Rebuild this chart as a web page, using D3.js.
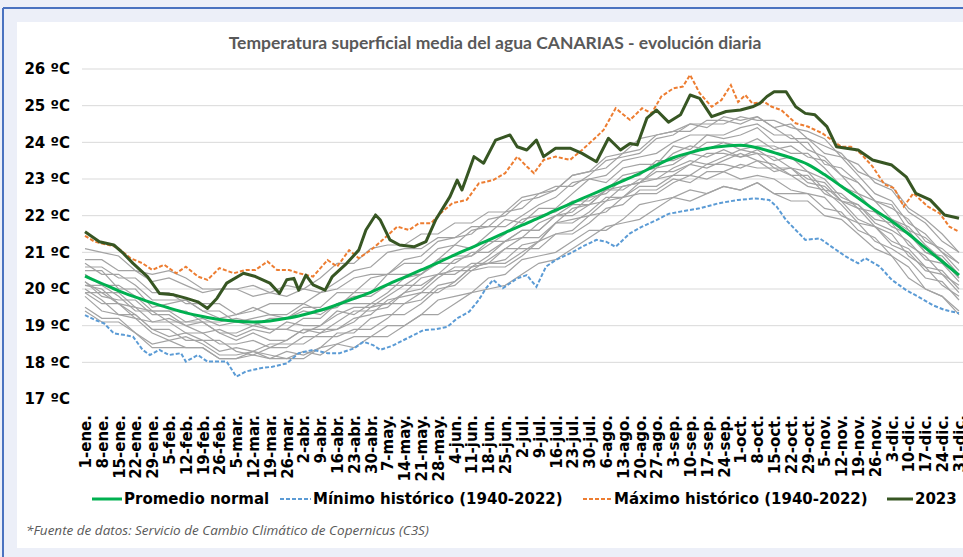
<!DOCTYPE html>
<html lang="es">
<head>
<meta charset="utf-8">
<script src="https://d3js.org/d3.v7.min.js"></script>
<title>Temperatura superficial media del agua CANARIAS</title>
<style>
  body { margin: 0; background: #eceff8; }
  svg { display: block; }
</style>
</head>
<body>
<div id="chart"></div>
<script>
// --- data ---
var title = "Temperatura superficial media del agua CANARIAS - evolución diaria";
var source = "*Fuente de datos: Servicio de Cambio Climático de Copernicus (C3S)";

var tickDays = [0,7,14,21,28,35,42,49,56,63,70,77,84,91,98,105,112,119,126,133,140,147,154,161,168,175,182,189,196,203,210,217,224,231,238,245,252,259,266,273,280,287,294,301,308,315,322,329,336,343,350,357,364];
var tickLabels = ["1-ene.","8-ene.","15-ene.","22-ene.","29-ene.","5-feb.","12-feb.","19-feb.","26-feb.","5-mar.","12-mar.","19-mar.","26-mar.","2-abr.","9-abr.","16-abr.","23-abr.","30-abr.","7-may.","14-may.","21-may.","28-may.","4-jun.","11-jun.","18-jun.","25-jun.","2-jul.","9-jul.","16-jul.","23-jul.","30-jul.","6-ago.","13-ago.","20-ago.","27-ago.","3-sep.","10-sep.","17-sep.","24-sep.","1-oct.","8-oct.","15-oct.","22-oct.","29-oct.","5-nov.","12-nov.","19-nov.","26-nov.","3-dic.","10-dic.","17-dic.","24-dic.","31-dic."];
var yTicks = [17,18,19,20,21,22,23,24,25,26];

// promedio normal (weekly, on tickDays)
var normal = [20.35,20.15,19.95,19.78,19.62,19.48,19.35,19.25,19.17,19.12,19.10,19.13,19.20,19.30,19.42,19.57,19.74,19.91,20.12,20.32,20.52,20.72,20.93,21.13,21.33,21.54,21.74,21.94,22.15,22.35,22.55,22.75,22.95,23.15,23.38,23.58,23.72,23.83,23.89,23.92,23.85,23.72,23.58,23.40,23.12,22.80,22.48,22.15,21.85,21.50,21.12,20.75,20.38];

// 2023
var days2023 = [0,6,12,16,20,26,31,37,42,47,51,55,59,66,71,77,81,84,87,89,92,95,100,103,109,114,117,121,123,127,131,137,142,146,152,155,157,162,166,171,177,180,184,188,191,196,202,207,213,218,223,227,230,234,238,243,248,252,256,261,267,273,278,281,284,287,292,296,300,304,309,313,317,322,328,336,342,346,352,358,364];
var t2023 = [21.56,21.29,21.20,20.97,20.70,20.34,19.88,19.84,19.75,19.65,19.47,19.75,20.16,20.43,20.34,20.16,19.88,20.25,20.29,19.97,20.38,20.11,19.97,20.34,20.70,21.06,21.61,22.02,21.88,21.34,21.20,21.15,21.29,21.88,22.52,22.97,22.70,23.61,23.43,24.06,24.20,23.88,23.79,24.06,23.61,23.84,23.84,23.70,23.47,24.11,23.79,23.97,23.93,24.66,24.88,24.55,24.75,25.29,25.20,24.70,24.84,24.88,24.97,25.06,25.25,25.38,25.38,24.97,24.79,24.75,24.43,23.88,23.84,23.79,23.52,23.38,23.06,22.61,22.43,22.02,21.93];

// máximo histórico (1940-2022)
var daysMax = [0,4,13,19,24,28,33,38,42,47,51,56,62,67,71,76,80,85,89,95,101,105,110,114,119,124,130,135,139,144,148,153,159,164,170,175,180,184,187,191,196,202,207,213,216,221,227,232,236,240,245,249,252,256,261,265,269,272,275,278,283,286,290,296,301,307,311,315,319,323,328,333,337,341,345,351,356,360,364];
var tMax = [21.45,21.29,21.15,20.84,20.70,20.52,20.66,20.43,20.61,20.34,20.25,20.57,20.43,20.52,20.52,20.75,20.52,20.52,20.43,20.34,20.79,20.61,21.06,20.84,21.06,21.34,21.70,21.61,21.79,21.79,22.06,22.34,22.43,22.88,22.97,23.16,23.61,23.34,23.16,23.52,23.61,23.52,23.79,24.15,24.34,24.93,24.61,24.93,24.79,25.25,25.47,25.52,25.84,25.34,24.97,25.15,25.56,25.10,25.29,25.06,25.10,24.97,24.88,24.52,24.43,24.25,24.06,23.88,23.88,23.70,23.34,22.85,22.75,22.25,22.61,22.25,22.06,21.70,21.56];

// mínimo histórico (1940-2022)
var daysMin = [0,4,8,12,16,20,24,27,31,35,40,42,47,51,55,59,63,67,73,78,84,89,95,101,106,112,116,120,123,128,134,141,146,151,155,160,164,167,170,174,180,184,188,192,196,202,207,213,217,221,227,232,238,243,248,256,264,272,279,285,288,292,296,300,306,311,317,322,325,331,336,342,347,353,358,364];
var tMin = [19.29,19.16,19.06,18.79,18.75,18.70,18.34,18.20,18.34,18.20,18.25,18.02,18.20,18.02,18.02,18.02,17.61,17.75,17.84,17.88,17.97,18.25,18.34,18.25,18.25,18.38,18.56,18.47,18.34,18.45,18.65,18.88,18.90,18.97,19.20,19.38,19.70,20.02,20.25,20.02,20.29,20.38,20.06,20.61,20.79,20.97,21.15,21.34,21.29,21.15,21.52,21.70,21.88,22.05,22.11,22.20,22.34,22.43,22.47,22.43,22.25,21.88,21.61,21.34,21.38,21.15,20.88,20.70,20.84,20.61,20.25,19.97,19.79,19.56,19.43,19.34];

// años 1940-2022 (muestra, semanal sobre tickDays)
var year01 = [19.9,19.6,19.6,19.3,18.9,18.9,18.6,18.6,18.6,18.3,18.2,18.4,18.4,18.7,18.7,18.7,18.9,18.9,19.2,19.6,19.7,20.1,20.2,20.6,20.7,20.7,21.0,21.3,21.8,21.9,22.0,22.4,22.5,22.9,23.0,23.1,23.1,23.4,23.4,23.3,23.5,23.2,23.3,23.0,22.9,22.4,22.2,21.7,21.5,20.9,20.6,20.1,19.8];
var year02 = [20.8,20.8,20.5,20.5,20.2,20.3,20.1,19.9,20.0,20.0,19.8,19.9,19.8,20.0,19.9,20.2,20.5,20.6,21.0,21.1,21.1,21.4,21.4,21.7,21.7,22.1,22.2,22.6,22.8,22.8,23.1,23.5,23.6,23.7,24.1,24.2,24.5,24.5,24.5,24.7,24.6,24.6,24.4,24.3,24.1,23.6,23.4,22.9,22.7,22.1,21.8,21.3,21.0];
var year03 = [20.4,20.1,20.1,19.8,19.4,19.4,19.4,19.1,19.1,19.2,19.1,18.9,18.9,19.2,19.2,19.6,19.6,19.6,19.9,20.3,20.4,20.8,20.9,20.9,21.2,21.5,21.9,22.0,22.1,22.4,22.4,22.7,23.1,23.2,23.3,23.7,23.9,23.8,24.0,23.8,23.9,23.9,23.7,23.7,23.3,22.8,22.6,22.1,21.9,21.7,21.2,20.8,20.3];
var year04 = [19.5,19.2,19.2,18.8,18.5,18.6,18.4,18.4,18.1,18.1,18.3,18.2,18.1,18.3,18.2,18.5,18.7,18.7,19.0,19.0,19.3,19.7,19.8,19.9,20.3,20.4,20.8,20.9,21.0,21.3,21.6,21.6,21.9,22.3,22.4,22.5,22.7,22.6,22.8,22.7,22.9,22.6,22.6,22.6,22.2,22.1,21.6,21.4,20.9,20.6,20.0,19.8,19.4];
var year05 = [20.2,19.8,19.7,19.7,19.3,19.3,19.0,18.8,18.9,18.7,18.9,18.8,19.1,19.0,19.0,19.4,19.3,19.6,19.6,19.9,20.3,20.4,20.4,20.7,20.7,21.1,21.4,21.4,21.8,22.2,22.3,22.7,22.7,23.0,23.0,23.3,23.5,23.4,23.6,23.8,23.7,23.3,23.3,22.9,22.8,22.4,22.3,21.9,21.8,21.2,20.9,20.4,20.1];
var year06 = [20.7,20.4,20.4,20.1,19.7,19.7,19.7,19.4,19.4,19.1,19.2,19.3,19.2,19.4,19.3,19.6,19.8,19.8,20.1,20.1,20.4,20.7,20.7,21.0,21.0,21.3,21.6,21.6,22.0,22.0,22.3,22.7,22.8,22.9,23.3,23.4,23.7,23.6,23.8,23.6,23.7,23.6,23.3,23.2,22.7,22.6,22.2,22.1,21.7,21.5,21.0,20.9,20.4];
var year07 = [19.8,19.4,19.3,19.3,18.9,18.7,18.8,18.6,18.3,18.4,18.3,18.5,18.5,18.5,18.8,18.9,19.2,19.3,19.7,19.8,19.9,20.3,20.6,20.6,20.9,21.3,21.4,21.8,22.0,22.1,22.5,22.6,23.0,23.1,23.5,23.5,23.7,24.0,24.0,23.9,24.1,23.8,23.9,23.6,23.5,23.1,22.6,22.4,21.9,21.6,21.0,20.8,20.3];
var year08 = [21.1,21.0,20.9,20.5,20.4,20.5,20.3,20.0,20.0,20.0,20.1,19.9,20.1,20.0,20.3,20.7,20.7,21.1,21.2,21.2,21.5,21.5,21.8,21.8,22.1,22.1,22.5,22.6,22.7,23.1,23.2,23.6,23.7,24.1,24.2,24.3,24.5,24.4,24.7,24.6,24.7,24.4,24.5,24.1,23.9,23.7,23.2,23.0,22.8,22.2,21.9,21.5,21.0];
var year09 = [19.9,19.9,19.6,19.2,19.1,19.2,19.0,19.1,18.8,18.6,18.8,18.6,18.6,18.9,18.9,18.9,19.1,19.5,19.6,19.6,19.9,19.9,20.2,20.6,20.7,20.8,21.2,21.3,21.8,21.8,22.1,22.5,22.5,22.8,22.8,23.1,23.4,23.3,23.5,23.7,23.5,23.4,23.1,22.8,22.7,22.3,21.8,21.7,21.3,21.1,20.6,20.5,20.0];
var year10 = [19.4,19.1,19.1,18.8,18.4,18.4,18.4,18.4,18.1,18.1,18.2,18.1,18.1,18.1,18.4,18.5,18.4,18.7,18.7,19.0,19.3,19.3,19.6,19.9,20.0,20.1,20.4,20.7,20.8,21.1,21.4,21.7,21.8,21.9,22.2,22.5,22.4,22.6,22.8,22.7,22.9,22.6,22.4,22.4,22.0,21.9,21.5,21.1,20.9,20.3,20.0,19.8,19.3];
var year11 = [20.6,20.6,20.3,20.3,19.9,19.9,19.6,19.6,19.6,19.3,19.4,19.6,19.6,19.6,19.9,20.0,20.3,20.4,20.4,20.7,20.7,21.1,21.2,21.6,21.7,21.7,22.0,22.3,22.5,22.9,23.0,23.1,23.5,23.6,23.7,24.0,24.2,24.2,24.2,24.4,24.5,24.2,24.2,23.8,23.6,23.1,22.9,22.4,22.2,21.9,21.3,21.1,20.7];
var year12 = [20.1,20.1,19.8,19.4,19.4,19.4,19.1,19.1,18.8,18.8,19.0,18.9,18.9,18.8,19.0,19.3,19.5,19.5,19.8,20.1,20.1,20.4,20.8,20.9,21.3,21.3,21.6,21.6,22.0,22.3,22.3,22.4,22.8,22.9,23.2,23.2,23.4,23.7,23.7,23.6,23.8,23.5,23.6,23.2,23.0,22.5,22.3,21.8,21.6,21.3,20.8,20.7,20.2];
var year13 = [20.0,19.7,19.3,19.2,18.8,18.6,18.7,18.5,18.2,18.2,18.3,18.1,18.3,18.2,18.4,18.8,18.8,19.2,19.3,19.3,19.6,20.0,20.1,20.5,20.6,20.6,20.9,21.3,21.5,21.6,22.0,22.1,22.5,22.6,22.6,22.9,23.1,23.0,23.2,23.0,23.1,23.0,22.7,22.6,22.5,22.0,21.8,21.3,21.1,20.8,20.3,20.2,19.7];
var year14 = [20.5,20.5,20.0,20.0,19.5,19.6,19.7,19.4,19.2,19.3,19.5,19.3,19.3,19.6,19.4,19.5,19.9,19.9,20.4,20.4,20.4,20.8,21.2,21.1,21.5,21.9,21.8,22.2,22.2,22.6,23.0,22.9,23.3,23.4,23.4,23.9,23.8,24.2,24.1,24.2,24.4,24.0,24.0,24.0,23.4,23.3,22.9,22.4,22.3,21.6,21.4,21.0,20.5];
var year15 = [20.1,20.0,19.6,19.5,19.1,19.1,18.8,18.8,18.5,18.5,18.6,18.4,18.6,18.9,18.8,19.1,19.4,19.4,19.5,19.9,20.0,20.4,20.5,20.5,20.8,21.1,21.1,21.1,21.5,21.5,21.8,22.2,22.3,22.7,22.7,23.0,22.9,23.2,23.2,23.4,23.3,23.3,23.1,23.1,22.6,22.4,21.9,21.7,21.2,21.0,20.5,20.4,19.9];
var year16 = [20.2,19.9,19.9,19.5,19.4,19.1,19.1,19.2,19.0,19.1,19.0,19.2,19.2,19.5,19.5,19.9,19.9,20.3,20.4,20.8,20.9,21.3,21.4,21.5,21.9,22.0,22.4,22.5,22.7,23.1,23.2,23.3,23.7,23.8,24.2,24.3,24.3,24.6,24.6,24.5,24.7,24.4,24.1,24.1,23.7,23.6,23.1,22.6,22.4,21.8,21.5,21.0,20.7];
var years = [year01,year02,year03,year04,year05,year06,year07,year08,year09,year10,year11,year12,year13,year14,year15,year16];

// --- drawing ---
var W = 963, H = 557;
var svg = d3.select("#chart").append("svg")
    .attr("width", W)
    .attr("height", H);

// frame
svg.append("rect").attr("width", W).attr("height", H).attr("fill", "#eceff8");
svg.append("rect").attr("x", 17).attr("y", 22).attr("width", W - 17).attr("height", 526).attr("fill", "#ffffff");
svg.append("line").attr("x1", 3).attr("x2", W).attr("y1", 8).attr("y2", 8).attr("stroke", "#4a72c0").attr("stroke-width", 2);
svg.append("line").attr("x1", 3).attr("x2", 3).attr("y1", 8).attr("y2", H).attr("stroke", "#4a72c0").attr("stroke-width", 2);

var x = d3.scaleLinear().domain([0, 364]).range([85, 959]);
var y = d3.scaleLinear().domain([17, 26]).range([399, 69]);

// gridlines
svg.append("g").selectAll("line")
    .data(yTicks.slice(1))
    .enter().append("line")
    .attr("x1", 82).attr("x2", W)
    .attr("y1", function(d){ return y(d); })
    .attr("y2", function(d){ return y(d); })
    .attr("stroke", "#d9d9d9")
    .attr("stroke-width", 1);

// y axis
var yAxis = svg.append("g")
    .attr("transform", "translate(82,0)")
    .call(d3.axisLeft(y).tickValues(yTicks).tickSize(0).tickPadding(12)
        .tickFormat(function(d){ return d + " ºC"; }));
yAxis.select(".domain").remove();
yAxis.selectAll("text")
    .attr("font-family", "DejaVu Sans, Verdana, sans-serif")
    .attr("font-weight", "bold")
    .attr("font-size", "15px")
    .attr("fill", "#000");

// x axis
var xAxis = svg.append("g")
    .attr("transform", "translate(0,415)")
    .call(d3.axisBottom(x).tickValues(tickDays).tickSize(0)
        .tickFormat(function(d, i){ return tickLabels[i]; }));
xAxis.select(".domain").remove();
xAxis.selectAll("text")
    .attr("transform", "rotate(-90)")
    .attr("text-anchor", "end")
    .attr("x", 0)
    .attr("y", 0)
    .attr("dy", "0.36em")
    .attr("font-family", "DejaVu Sans, Verdana, sans-serif")
    .attr("font-weight", "bold")
    .attr("font-size", "15px")
    .attr("fill", "#000");

// lines
var weekly = d3.line()
    .x(function(d, i){ return x(tickDays[i]); })
    .y(function(d){ return y(d); });
var byDay = function(days){
    return d3.line()
        .x(function(d, i){ return x(days[i]); })
        .y(function(d){ return y(d); });
};

svg.append("g").selectAll("path")
    .data(years)
    .enter().append("path")
    .attr("d", weekly)
    .attr("fill", "none")
    .attr("stroke", "#a3a3a3")
    .attr("stroke-width", 1.2);

svg.append("path").datum(tMin)
    .attr("d", byDay(daysMin))
    .attr("fill", "none")
    .attr("stroke", "#5b9bd5")
    .attr("stroke-width", 2)
    .attr("stroke-dasharray", "4,2");

svg.append("path").datum(tMax)
    .attr("d", byDay(daysMax))
    .attr("fill", "none")
    .attr("stroke", "#ed7d31")
    .attr("stroke-width", 2)
    .attr("stroke-dasharray", "4,2");

svg.append("path").datum(normal)
    .attr("d", d3.line()
        .x(function(d, i){ return x(tickDays[i]); })
        .y(function(d){ return y(d); })
        .curve(d3.curveMonotoneX))
    .attr("fill", "none")
    .attr("stroke", "#00b050")
    .attr("stroke-width", 3);

svg.append("path").datum(t2023)
    .attr("d", byDay(days2023))
    .attr("fill", "none")
    .attr("stroke", "#375623")
    .attr("stroke-width", 3)
    .attr("stroke-linejoin", "round");

// title
svg.append("text")
    .attr("x", 495).attr("y", 49)
    .attr("text-anchor", "middle")
    .attr("font-family", "Lato, sans-serif")
    .attr("font-weight", "bold")
    .attr("font-size", "17.5px")
    .attr("fill", "#595959")
    .text(title);

// legend
var legend = [
    {label: "Promedio normal", color: "#00b050", dash: null, x0: 92, x1: 122},
    {label: "Mínimo histórico (1940-2022)", color: "#5b9bd5", dash: "4,2", x0: 280, x1: 311},
    {label: "Máximo histórico (1940-2022)", color: "#ed7d31", dash: "4,2", x0: 583, x1: 612},
    {label: "2023", color: "#375623", dash: null, x0: 887, x1: 913}
];
var lg = svg.append("g").selectAll("g").data(legend).enter().append("g");
lg.append("line")
    .attr("x1", function(d){ return d.x0; })
    .attr("x2", function(d){ return d.x1; })
    .attr("y1", 499).attr("y2", 499)
    .attr("stroke", function(d){ return d.color; })
    .attr("stroke-width", function(d){ return d.dash ? 2 : 3; })
    .attr("stroke-dasharray", function(d){ return d.dash; });
lg.append("text")
    .attr("x", function(d){ return d.x1 + 2; })
    .attr("y", 499)
    .attr("dy", "0.36em")
    .attr("font-family", "DejaVu Sans, Verdana, sans-serif")
    .attr("font-weight", "bold")
    .attr("font-size", "15px")
    .attr("fill", "#000")
    .text(function(d){ return d.label; });

// source
svg.append("text")
    .attr("x", 26).attr("y", 535)
    .attr("font-family", "Open Sans, sans-serif")
    .attr("font-style", "italic")
    .attr("font-size", "13.5px")
    .attr("fill", "#595959")
    .text(source);
</script>
</body>
</html>
